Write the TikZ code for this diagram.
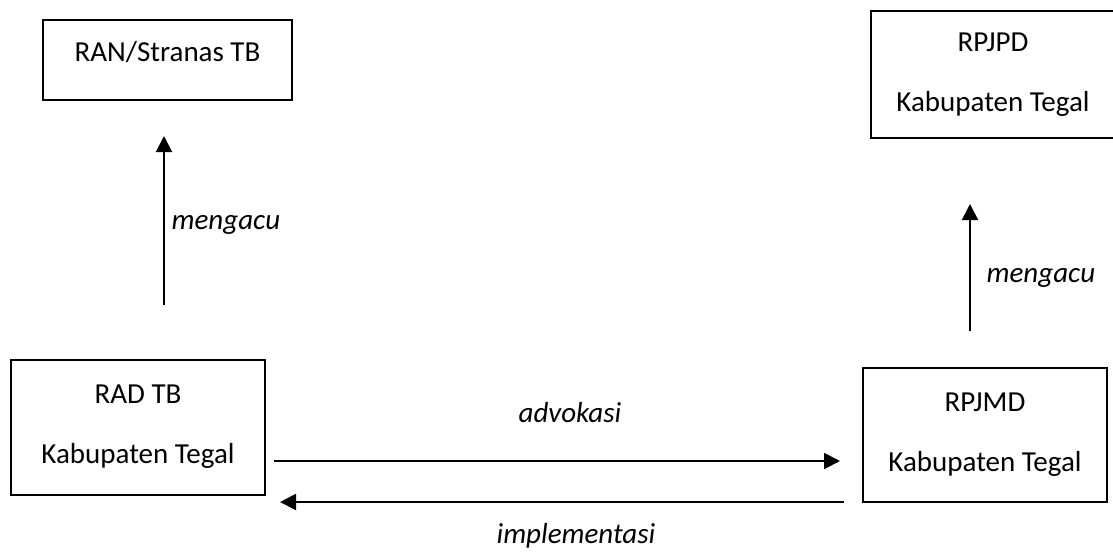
\documentclass[tikz,border=0pt]{standalone}
\usepackage{fontspec}
\setmainfont{Carlito}
\usetikzlibrary{arrows.meta}

\begin{document}
\begin{tikzpicture}[x=0.5pt,y=-0.5pt,
  box/.style={draw, line width=1pt, align=center, inner sep=0pt, font=\fontsize{14.5pt}{30pt}\selectfont},
  arr/.style={line width=1pt, -{Triangle[length=8pt,width=8pt]}},
  lbl/.style={font=\fontsize{14.5pt}{17pt}\selectfont\itshape}]
\useasboundingbox (0,0) rectangle (1113,553);
\clip (0,0) rectangle (1113,553);
\node [box, minimum width=124.5pt, minimum height=40pt, text depth=9pt] (ran) at (167.5,60) {RAN/Stranas TB};
\node [box, minimum width=122pt, minimum height=63.5pt] (rpjpd) at (993,74.5) {RPJPD\\Kabupaten Tegal};
\node [box, minimum width=127pt, minimum height=67.5pt] (rad) at (138,427) {RAD TB\\Kabupaten Tegal};
\node [box, minimum width=122pt, minimum height=67pt] (rpjmd) at (985,435) {RPJMD\\Kabupaten Tegal};
\draw [arr, shorten <=27pt, shorten >=17.5pt] ([xshift=13pt]rad.north) -- ([xshift=-1.75pt]ran.south)
  node [lbl, pos=0.52, right] {mengacu};
\draw [arr, shorten <=18pt, shorten >=32.5pt] ([xshift=-7.5pt]rpjmd.north) -- ([xshift=-11.5pt]rpjpd.south)
  node [lbl, pos=0.39, right, xshift=4.5pt] {mengacu};
\draw [arr, shorten <=4pt, shorten >=11pt] ([yshift=-17pt]rad.east) -- ([yshift=-13pt]rpjmd.west)
  node [lbl, pos=0.51, yshift=24pt] {advokasi};
\draw [arr, shorten <=9pt, shorten >=7pt] ([yshift=-33.5pt]rpjmd.west) -- ([yshift=-37.5pt]rad.east)
  node [lbl, pos=0.48, yshift=-17pt] {implementasi};
\end{tikzpicture}
\end{document}
